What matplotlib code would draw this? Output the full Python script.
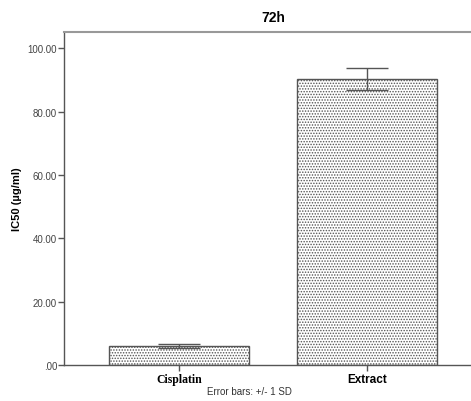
import matplotlib
matplotlib.use("Agg")
import matplotlib.pyplot as plt
from matplotlib.ticker import FuncFormatter

groups = ["Cisplatin", "Extract"]
ic50_mean = [5.9, 90.3]
ic50_sd = [0.6, 3.5]
yticks = [0, 20, 40, 60, 80, 100]

plt.rcParams["font.family"] = ["Liberation Sans", "DejaVu Sans"]
plt.rcParams["hatch.color"] = "#b0b0b0"
plt.rcParams["hatch.linewidth"] = 0.7

fig = plt.figure(figsize=(4.71, 4.02), dpi=100)
ax = fig.add_axes([64 / 471, 1 - 366 / 402, 418 / 471, 333 / 402])

x = list(range(len(groups)))
ax.bar(x, ic50_mean, width=0.745, color="white", edgecolor="#555555",
       linewidth=1.0, hatch="......", zorder=2)
ax.errorbar(x, ic50_mean, yerr=ic50_sd, fmt="none", ecolor="#555555",
            elinewidth=1.0, capsize=15, capthick=1.0, zorder=3)

ax.set_xlim(-0.612, 1.612)
ax.set_ylim(0, 105.2)
ax.set_yticks(yticks)
ax.yaxis.set_major_formatter(FuncFormatter(lambda v, p: ".00" if v == 0 else "%.2f" % v))
ax.set_xticks(x)
ax.set_xticklabels(groups, fontweight="bold", fontsize=8.5)
ax.get_xticklabels()[0].set_family("Liberation Serif")
ax.tick_params(axis="y", labelsize=7, labelcolor="#444444", length=4,
               width=1.0, color="#555555", pad=1)
ax.tick_params(axis="x", length=4, width=1.0, color="#555555", pad=1.5)

for side in ["left", "bottom"]:
    ax.spines[side].set_color("#555555")
    ax.spines[side].set_linewidth(1.0)
ax.spines["top"].set_color("#999999")
ax.spines["top"].set_linewidth(1.5)
ax.spines["right"].set_visible(False)

ax.set_ylabel("IC50 (µg/ml)", fontweight="bold", fontsize=8, labelpad=4)
ax.set_title("72h", fontweight="bold", fontsize=10, pad=8)
fig.text(249 / 471, 1 - 392 / 402, "Error bars: +/- 1 SD", ha="center",
         va="center", fontsize=7, color="#333333")

fig.savefig("out.png", dpi=100)
